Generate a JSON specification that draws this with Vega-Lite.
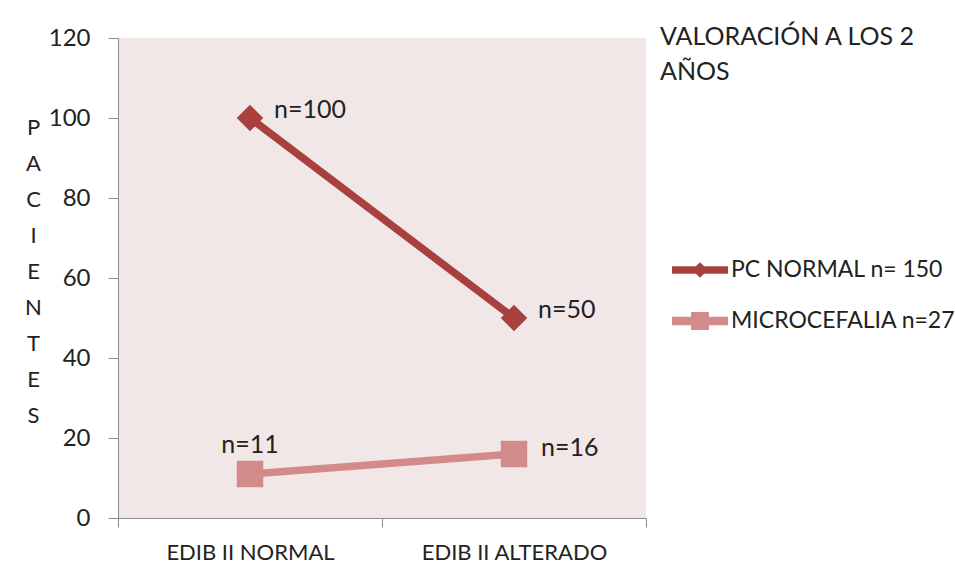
{
  "$schema": "https://vega.github.io/schema/vega-lite/v6.json",
  "autosize": {"type": "none"},
  "width": 528,
  "height": 480,
  "padding": {"left": 118, "top": 38, "right": 309, "bottom": 62},
  "background": "white",
  "config": {
    "font": "Lato",
    "view": {"fill": "#f2e7e7", "stroke": null},
    "axis": {
      "labelFont": "Lato",
      "titleFont": "Lato",
      "labelColor": "#222222",
      "titleColor": "#222222",
      "domainColor": "#8c8c8c",
      "tickColor": "#8c8c8c",
      "grid": false
    }
  },
  "title": {
    "text": ["VALORACIÓN A LOS 2", "AÑOS"],
    "anchor": "start",
    "frame": "group",
    "dx": 542,
    "dy": 63,
    "fontSize": 25,
    "fontWeight": "normal",
    "lineHeight": 35,
    "color": "#222222",
    "font": "Lato"
  },
  "data": {
    "values": [
      {"cat": "EDIB II NORMAL", "serie": "PC NORMAL n= 150", "value": 100, "label": "n=100"},
      {"cat": "EDIB II ALTERADO", "serie": "PC NORMAL n= 150", "value": 50, "label": "n=50"},
      {"cat": "EDIB II NORMAL", "serie": "MICROCEFALIA n=27", "value": 11, "label": "n=11"},
      {"cat": "EDIB II ALTERADO", "serie": "MICROCEFALIA n=27", "value": 16, "label": "n=16"}
    ]
  },
  "encoding": {
    "x": {
      "field": "cat",
      "type": "nominal",
      "sort": ["EDIB II NORMAL", "EDIB II ALTERADO"],
      "scale": {"type": "band", "paddingInner": 0, "paddingOuter": 0},
      "axis": {
        "title": null,
        "labelAngle": 0,
        "labelFontSize": 22,
        "labelLimit": 300,
        "labelPadding": 15,
        "tickSize": 9,
        "tickBand": "extent"
      }
    },
    "y": {
      "field": "value",
      "type": "quantitative",
      "scale": {"domain": [0, 120], "nice": false},
      "axis": {
        "values": [0, 20, 40, 60, 80, 100, 120],
        "labelFontSize": 24,
        "labelPadding": 18,
        "tickSize": 10,
        "title": ["P", "A", "C", "I", "E", "N", "T", "E", "S"],
        "titleAngle": 0,
        "titleFontSize": 22,
        "titleFontWeight": "normal",
        "titleLineHeight": 36,
        "titleAlign": "center",
        "titleBaseline": "middle",
        "titleX": -85,
        "titleY": 89
      }
    },
    "color": {
      "field": "serie",
      "type": "nominal",
      "sort": ["PC NORMAL n= 150", "MICROCEFALIA n=27"],
      "scale": {"domain": ["PC NORMAL n= 150", "MICROCEFALIA n=27"], "range": ["#a8403e", "#d38a8a"]},
      "legend": {
        "title": null,
        "orient": "none",
        "legendX": 554,
        "legendY": 204,
        "symbolSize": 3136,
        "symbolType": "M-1,-0.12H1V0.12H-1Z",
        "labelFontSize": 23,
        "labelFont": "Lato",
        "labelColor": "#222222",
        "labelLimit": 400,
        "labelOffset": 3,
        "rowPadding": 11,
        "encode": {
          "symbols": {
            "update": {
              "shape": {"signal": "datum.value === 'PC NORMAL n= 150' ? 'M-1,-0.13H1V0.13H-1Z M0,-0.28L0.28,0L0,0.28L-0.28,0Z' : 'M-1,-0.15H1V0.15H-1Z M-0.32,-0.32H0.32V0.32H-0.32Z'"},
              "fill": {"scale": "color", "field": "value"},
              "fillOpacity": {"value": 1},
              "strokeWidth": {"value": 0}
            }
          }
        }
      }
    }
  },
  "layer": [
    {
      "mark": {"type": "line", "strokeWidth": 7.5},
      "encoding": {"detail": {"field": "serie"}}
    },
    {
      "mark": {"type": "point", "filled": true, "opacity": 1, "size": 700},
      "encoding": {
        "shape": {
          "condition": {"test": "datum.serie === 'PC NORMAL n= 150'", "value": "diamond"},
          "value": "square"
        }
      }
    },
    {
      "transform": [{"filter": "datum.serie === 'PC NORMAL n= 150'"}],
      "mark": {"type": "text", "align": "left", "baseline": "middle", "dx": 24, "dy": -8, "fontSize": 25},
      "encoding": {"text": {"field": "label"}, "color": {"value": "#222222"}}
    },
    {
      "transform": [{"filter": "datum.label === 'n=11'"}],
      "mark": {"type": "text", "align": "center", "baseline": "middle", "dy": -29, "fontSize": 25},
      "encoding": {"text": {"field": "label"}, "color": {"value": "#222222"}}
    },
    {
      "transform": [{"filter": "datum.label === 'n=16'"}],
      "mark": {"type": "text", "align": "left", "baseline": "middle", "dx": 27, "dy": -6, "fontSize": 25},
      "encoding": {"text": {"field": "label"}, "color": {"value": "#222222"}}
    }
  ]
}
